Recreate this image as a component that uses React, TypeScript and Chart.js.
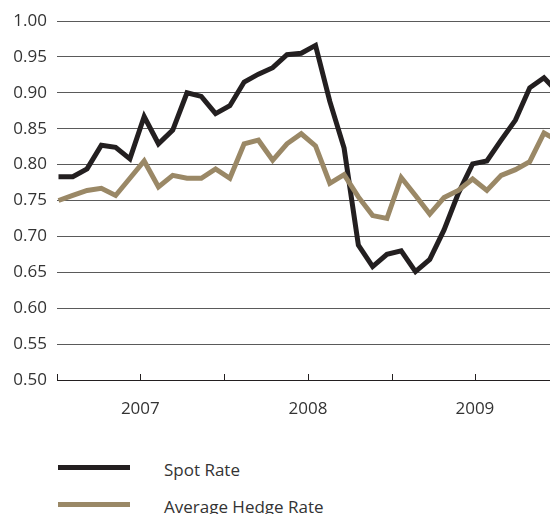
import React, { useEffect, useRef } from "react";
import { Chart, registerables } from "chart.js";

Chart.register(...registerables);

// Spot rate, one value per period (last point lies just past the right edge)
const spotRate = [
  0.783, 0.783, 0.794, 0.827, 0.824, 0.808, 0.867, 0.829, 0.848, 0.9,
  0.895, 0.871, 0.882, 0.915, 0.926, 0.935, 0.953, 0.955, 0.966, 0.888,
  0.823, 0.688, 0.658, 0.675, 0.68, 0.651, 0.668, 0.709, 0.76, 0.801,
  0.805, 0.834, 0.862, 0.907, 0.921, 0.9,
];
const hedgeRate = [
  0.75, 0.757, 0.764, 0.767, 0.757, 0.781, 0.805, 0.769, 0.785, 0.781,
  0.781, 0.794, 0.781, 0.829, 0.834, 0.806, 0.829, 0.843, 0.826, 0.774,
  0.786, 0.755, 0.729, 0.725, 0.782, 0.757, 0.731, 0.754, 0.764, 0.78,
  0.764, 0.785, 0.793, 0.804, 0.844, 0.833,
];
// x-axis tick positions (in period units) and their labels
const xTickValues = [-0.105, 5.73, 11.59, 17.47, 23.33, 29.16];
const xTickLabels = ["", "2007", "", "2008", "", "2009"];
const xMin = -0.105;
const xMax = 34.42;
const yMin = 0.5;
const yMax = 1.0;
const yStep = 0.05;

const seriesNames = ["Spot Rate", "Average Hedge Rate"];
const seriesColors = ["#231f20", "#9a8866"];

const FONT = "'Open Sans', 'Noto Sans', sans-serif";

const innerTicks = {
  id: "innerTicks",
  afterDraw(chart: any) {
    const xs = chart.scales.x;
    const ctx = chart.ctx;
    const bottom = chart.chartArea.bottom;
    ctx.save();
    ctx.strokeStyle = "#231f20";
    ctx.lineWidth = 1;
    xs.ticks.forEach((t: any) => {
      const px = Math.round(xs.getPixelForValue(t.value)) + 0.5;
      ctx.beginPath();
      ctx.moveTo(px, bottom);
      ctx.lineTo(px, bottom - 6);
      ctx.stroke();
    });
    ctx.restore();
  },
};

export default function App() {
  const ref = useRef<HTMLCanvasElement | null>(null);

  useEffect(() => {
    document.body.style.margin = "0";
    if (!ref.current) return;
    const chart = new Chart(ref.current, {
      type: "line",
      data: {
        datasets: [
          {
            label: seriesNames[0],
            data: spotRate.map((y, i) => ({ x: i, y })),
            borderColor: seriesColors[0],
            borderWidth: 5,
            pointRadius: 0,
            tension: 0,
            borderJoinStyle: "miter",
            clip: 0,
          },
          {
            label: seriesNames[1],
            data: hedgeRate.map((y, i) => ({ x: i, y })),
            borderColor: seriesColors[1],
            borderWidth: 5,
            pointRadius: 0,
            tension: 0,
            borderJoinStyle: "miter",
            clip: 0,
          },
        ].reverse(),
      },
      options: {
        animation: false,
        responsive: false,
        devicePixelRatio: 1,
        layout: { padding: { top: 21, right: 0, left: 0, bottom: 0 } },
        plugins: {
          legend: { display: false },
          tooltip: { enabled: false },
        },
        scales: {
          x: {
            type: "linear",
            min: xMin,
            max: xMax,
            afterBuildTicks: (scale: any) => {
              scale.ticks = xTickValues.map((v) => ({ value: v }));
            },
            afterFit: (scale: any) => {
              scale.height = 60;
            },
            grid: { display: false, drawTicks: false },
            border: { display: true, color: "#231f20", width: 1 },
            ticks: {
              autoSkip: false,
              maxRotation: 0,
              padding: 19,
              color: "#333333",
              font: { family: FONT, size: 17 },
              callback: (_v: any, i: number) => xTickLabels[i],
            },
          },
          y: {
            min: yMin,
            max: yMax,
            afterFit: (scale: any) => {
              scale.width = 57;
            },
            grid: { color: "#5a5a5a", lineWidth: 1, drawTicks: false },
            border: { display: false },
            ticks: {
              stepSize: yStep,
              padding: 10,
              color: "#333333",
              font: { family: FONT, size: 17 },
              callback: (v: any) => Number(v).toFixed(2),
            },
          },
        },
      },
      plugins: [innerTicks],
    } as any);
    return () => chart.destroy();
  }, []);

  const legendText: React.CSSProperties = {
    position: "absolute",
    left: 164,
    fontFamily: FONT,
    fontSize: 17,
    lineHeight: "20px",
    color: "#333333",
    whiteSpace: "nowrap",
  };

  return (
    <div style={{ position: "relative", width: 550, height: 514, overflow: "hidden" }}>
      <canvas ref={ref} width={550} height={440} style={{ display: "block", width: 550, height: 440 }} />
      <div style={{ position: "absolute", left: 58, top: 465, width: 72, height: 5, background: seriesColors[0] }} />
      <div style={{ ...legendText, top: 460 }}>{seriesNames[0]}</div>
      <div style={{ position: "absolute", left: 58, top: 502, width: 72, height: 5, background: seriesColors[1] }} />
      <div style={{ ...legendText, top: 497 }}>{seriesNames[1]}</div>
    </div>
  );
}
